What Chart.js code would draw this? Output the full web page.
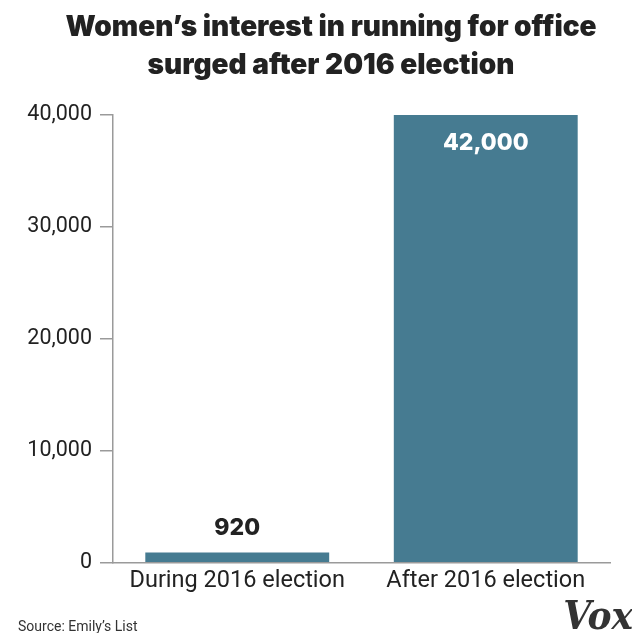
<!DOCTYPE html>
<html>
<head>
<meta charset="utf-8">
<script src="https://cdn.jsdelivr.net/npm/chart.js@4"></script>
<style>
  html, body { margin:0; padding:0; background:#fff; }
  #wrap { width:632px; height:633px; position:relative; }
</style>
</head>
<body>
<div id="wrap"><canvas id="chart" width="632" height="633"></canvas></div>
<script>
// data
const categorias = ["During 2016 election", "After 2016 election"];
const interessadas = [920, 42000];
const rotulos = ["920", "42,000"];
const ticksY = [0, 10000, 20000, 30000, 40000];

const titulo = ["Women\u2019s interest in running for office", "surged after 2016 election"];
const fonte = "Source: Emily\u2019s List";

const corBarra = '#467b91';
const corEixo = '#9a9a9a';

// title, value labels, source and logo
const extras = {
  id: 'extras',
  afterDatasetsDraw(chart){
    const ctx = chart.ctx;
    const meta = chart.getDatasetMeta(0);
    const area = chart.chartArea;
    ctx.save();
    ctx.textAlign = 'center';
    ctx.textBaseline = 'middle';
    ctx.font = '800 23px Inter, Roboto, sans-serif';
    meta.data.forEach((bar, i) => {
      const top = Math.max(bar.y, area.top);
      if (bar.y < area.top + 40) {
        // tall bar clipped at the top: label goes inside
        ctx.fillStyle = '#fff';
        ctx.fillText(rotulos[i], bar.x, top + 28);
      } else {
        ctx.fillStyle = '#222';
        ctx.fillText(rotulos[i], bar.x, top - 24);
      }
    });
    ctx.restore();
  },
  afterDraw(chart){
    const ctx = chart.ctx;
    ctx.save();
    ctx.fillStyle = '#222';
    ctx.textAlign = 'center';
    ctx.textBaseline = 'middle';
    ctx.font = '900 28px Inter, Roboto, sans-serif';
    ctx.fillText(titulo[0], 331, 28);
    ctx.fillText(titulo[1], 331, 66);

    ctx.textAlign = 'left';
    ctx.font = '14px Roboto, sans-serif';
    ctx.fillStyle = '#333';
    ctx.fillText(fonte, 18, 627);

    ctx.textAlign = 'right';
    ctx.textBaseline = 'alphabetic';
    ctx.font = 'bold italic 40px "DejaVu Serif Condensed", "DejaVu Serif", serif';
    ctx.fillStyle = '#333';
    ctx.fillText('Vox', 633, 629);
    ctx.restore();
  }
};

new Chart(document.getElementById('chart').getContext('2d'), {
  type: 'bar',
  data: {
    labels: categorias,
    datasets: [{
      data: interessadas,
      backgroundColor: corBarra,
      barPercentage: 0.74,
      categoryPercentage: 1.0
    }]
  },
  options: {
    responsive: false,
    animation: false,
    layout: { padding: { top: 115, right: 22, bottom: 34, left: 0 } },
    plugins: { legend: { display:false }, tooltip: { enabled:false } },
    scales: {
      x: {
        grid: { display:false, drawTicks:false },
        border: { display:true, color: corEixo, width: 1.5 },
        ticks: { color:'#222', font: { size: 23.5, family: 'Roboto, sans-serif' }, padding: 4 }
      },
      y: {
        min: 0, max: 40000,
        afterBuildTicks(axis){ axis.ticks = ticksY.map(v => ({ value: v })); },
        afterFit(axis){ axis.width = 113; },
        grid: { drawOnChartArea:false, drawTicks:true, tickLength: 13, color: corEixo, lineWidth: 1.5 },
        border: { display:true, color: corEixo, width: 1.5 },
        ticks: {
          color:'#222', padding: 8,
          font: { size: 21.5, family: 'Roboto, sans-serif', weight: 400 },
          callback: v => v.toLocaleString('en-US')
        }
      }
    }
  },
  plugins: [extras]
});
</script>
</body>
</html>
